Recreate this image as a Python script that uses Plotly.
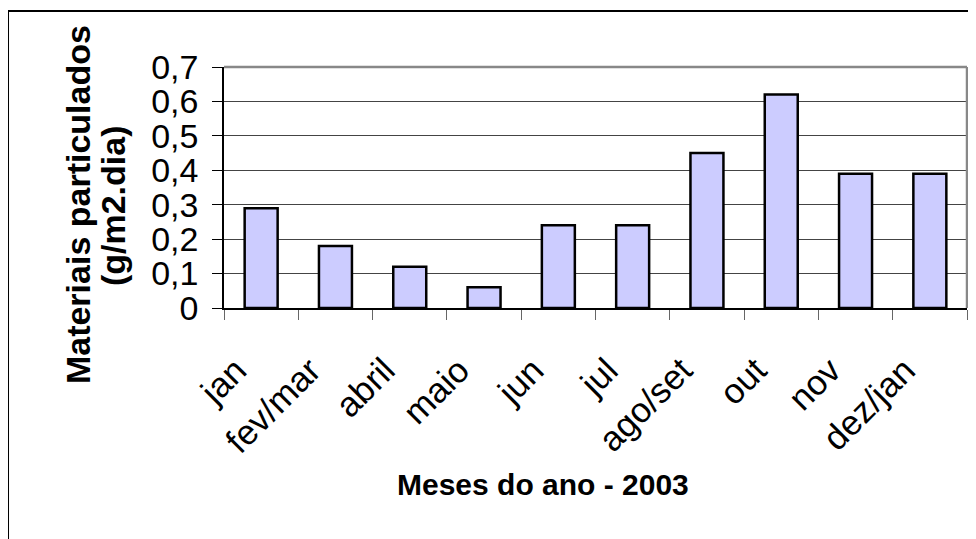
import plotly.graph_objects as go

# ── Dados ──────────────────────────────────────────────────────────────────────
meses = ["jan", "fev/mar", "abril", "maio", "jun", "jul",
         "ago/set", "out", "nov", "dez/jan"]
materiais = [0.29, 0.18, 0.12, 0.06, 0.24, 0.24, 0.45, 0.62, 0.39, 0.39]

y_tick_vals = [0, 0.1, 0.2, 0.3, 0.4, 0.5, 0.6, 0.7]
y_tick_text = ["0", "0,1", "0,2", "0,3", "0,4", "0,5", "0,6", "0,7"]

FONT = "Arial, Liberation Sans, sans-serif"

fig = go.Figure(
    go.Bar(
        x=meses,
        y=materiais,
        marker=dict(color="#CCCCFF", line=dict(color="black", width=2.5)),
        hoverinfo="x+y",
    )
)

# a página tem 8px de margem no body: compensado nas margens
fig.update_layout(
    width=976,
    height=539,
    margin=dict(l=216, r=17, t=59, b=239),
    paper_bgcolor="white",
    plot_bgcolor="white",
    bargap=0.556,
    showlegend=False,
    font=dict(family=FONT, color="black"),
)

fig.update_yaxes(
    range=[0, 0.7],
    tickvals=y_tick_vals,
    ticktext=y_tick_text,
    tickfont=dict(size=34, color="black"),
    ticks="outside",
    ticklen=10,
    tickcolor="black",
    ticklabelstandoff=7,
    showline=True,
    linecolor="black",
    linewidth=1.5,
    showgrid=True,
    gridcolor="#444444",
    gridwidth=1,
    zeroline=False,
)

fig.update_xaxes(
    tickangle=-45,
    tickfont=dict(size=35, color="black"),
    ticks="outside",
    tickson="boundaries",
    ticklen=10,
    tickcolor="#666666",
    ticklabelstandoff=26,
    ticklabelshift=-25,
    showline=True,
    linecolor="black",
    linewidth=1.5,
    showgrid=False,
)

# borda da área do gráfico (topo e direita, cinza)
fig.add_shape(type="line", xref="paper", yref="paper", x0=0, x1=1, y0=1, y1=1,
              line=dict(color="#888888", width=2.5))
fig.add_shape(type="line", xref="paper", yref="paper", x0=1, x1=1, y0=0, y1=1,
              line=dict(color="#888888", width=2.5))

# moldura externa
fig.add_shape(type="rect", xref="paper", yref="paper",
              x0=-0.2907, x1=1.06, y0=-1.1, y1=1.232,
              line=dict(color="black", width=2))

# títulos dos eixos (duas linhas do eixo y como anotações separadas)
fig.add_annotation(
    text="<b>Materiais particulados</b>",
    xref="paper", yref="paper", x=-0.1965, y=0.427,
    xanchor="center", yanchor="middle",
    textangle=-90, showarrow=False,
    font=dict(size=34, family=FONT, color="black"),
)
fig.add_annotation(
    text="<b>(g/m2.dia)</b>",
    xref="paper", yref="paper", x=-0.1494, y=0.427,
    xanchor="center", yanchor="middle",
    textangle=-90, showarrow=False,
    font=dict(size=34, family=FONT, color="black"),
)
fig.add_annotation(
    text="<b>Meses do ano - 2003</b>",
    xref="paper", yref="paper", x=0.429, y=-0.734,
    xanchor="center", yanchor="middle",
    showarrow=False,
    font=dict(size=30, family=FONT, color="black"),
)

fig.write_html("out.html")
